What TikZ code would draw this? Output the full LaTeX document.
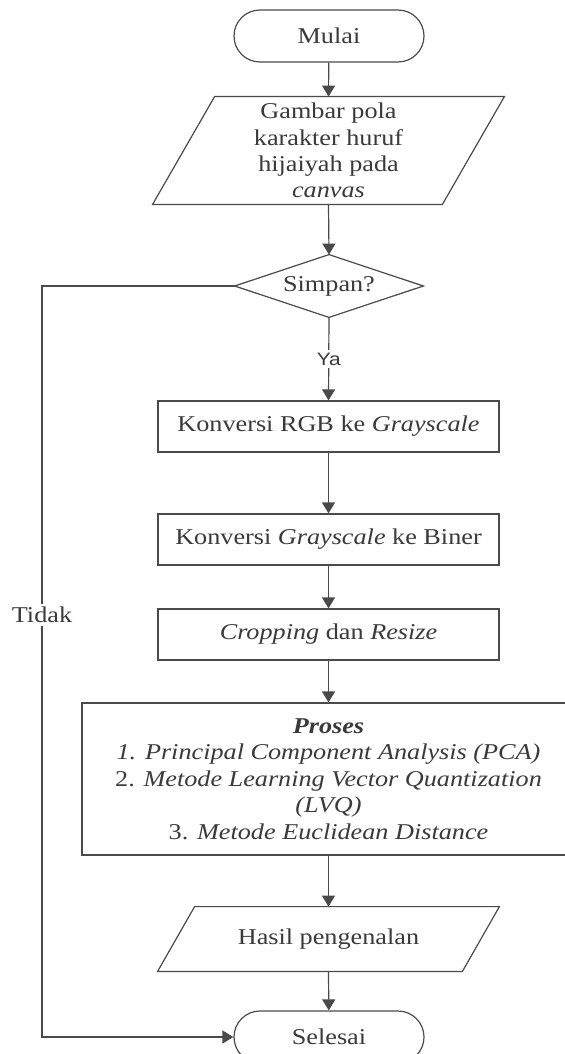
\documentclass[tikz,border=0pt]{standalone}
\usepackage{fontspec}
\setmainfont{Liberation Serif}[FakeStretch=1.16]
\newfontfamily\yafont{Liberation Sans}[FakeStretch=1.16]
\usetikzlibrary{shapes.geometric,arrows.meta}
\definecolor{linec}{HTML}{4A4A4A}
\definecolor{textc}{HTML}{3A3A3A}
\newcommand{\mainsz}{\fontsize{11.3}{13.2}\selectfont}
\tikzset{
  conn/.style={draw=linec, line width=0.6pt},
  arr/.style={conn, -{Triangle[length=5.5pt,width=6.5pt]}},
  every node/.style={text=textc, font=\mainsz},
  procbox/.style={rectangle, draw=linec, line width=0.6pt, minimum width=170.5pt, minimum height=25.5pt, inner sep=0pt},
  term/.style={rectangle, rounded corners=13pt, draw=linec, line width=0.6pt, minimum width=95pt, minimum height=26pt, inner sep=0pt},
  iobody/.style={rectangle, inner sep=0pt, align=center},
  lbl/.style={fill=white, inner sep=1.5pt},
}
\begin{document}
\begin{tikzpicture}[x=0.5pt, y=-0.5pt]
\useasboundingbox (0,0) rectangle (565,1054);
\clip (0,0) rectangle (565,1054);
\fill[white] (0,0) rectangle (565,1054);

\node[term] (start) at (329,36) {Mulai};
\node[iobody, minimum width=144.5pt, minimum height=53.5pt] (inp) at (328.5,150.5)
  {Gambar pola\\karakter huruf\\hijaiyah pada\\\textit{canvas}};
\draw[conn] ([xshift=-15.5pt]inp.south west) -- ([xshift=15.5pt]inp.north west)
  -- ([xshift=15.5pt]inp.north east) -- ([xshift=-15.5pt]inp.south east) -- cycle;
\node[iobody, minimum width=94pt, minimum height=31pt] (dec) at (329,286) {Simpan?};
\draw[conn] (dec.north) -- (dec.east) -- (dec.south) -- (dec.west) -- cycle;
\node[procbox] (gray) at (328.5,426.5) {Konversi RGB ke \textit{Grayscale}};
\node[procbox] (bin) at (328.5,539.5) {Konversi \textit{Grayscale} ke Biner};
\node[procbox] (crop) at (328.5,634.5) {\textit{Cropping} dan \textit{Resize}};
\node[rectangle, draw=linec, line width=0.6pt, minimum width=246.5pt, minimum height=76pt, inner sep=0pt, align=center] (proc) at (328.5,779)
  {\textbf{\textit{Proses}}\\
   \textit{1. Principal Component Analysis (PCA)}\\
   2. \textit{Metode Learning Vector Quantization}\\
   \textit{(LVQ)}\\
   3. \textit{Metode Euclidean Distance}};
\node[iobody, minimum width=152pt, minimum height=32pt] (out) at (328.5,939) {Hasil pengenalan};
\draw[conn] ([xshift=-9.25pt]out.south west) -- ([xshift=9.25pt]out.north west)
  -- ([xshift=9.25pt]out.north east) -- ([xshift=-9.25pt]out.south east) -- cycle;
\node[term] (end) at (329,1037) {Selesai};

\coordinate (lt) at (42,286);

\draw[arr] (start) -- (inp.north);
\draw[arr] (inp.south) -- (dec.north);
\draw[arr] (dec.south) -- node[lbl, font=\yafont\fontsize{9}{10}\selectfont] {Ya} (gray.north);
\draw[arr] (gray) -- (bin);
\draw[arr] (bin) -- (crop);
\draw[arr] (crop) -- (proc);
\draw[arr] (proc) -- (out.north);
\draw[arr] (out.south) -- (end);
\draw[arr] (dec.west) -- (lt) -- node[lbl, pos=0.438] {Tidak} (lt |- end.west) -- (end.west);
\end{tikzpicture}
\end{document}
